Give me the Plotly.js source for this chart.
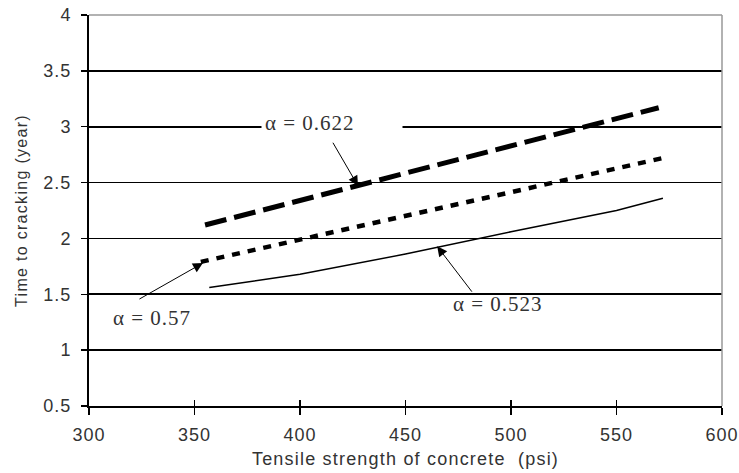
<!DOCTYPE html>
<html>
<head>
<meta charset="utf-8">
<script src="https://cdn.plot.ly/plotly-3.0.1.min.js"></script>
<style>
  html, body { margin: 0; padding: 0; background: #fff; }
  #chart { width: 739px; height: 473px; }
  .xtick text, .ytick text { letter-spacing: 1px; }
  text.xtitle { letter-spacing: 1.2px; }
  text.ytitle { letter-spacing: 1.3px; }
  .annotation-text { letter-spacing: 1px; }
</style>
</head>
<body>
<div id="chart"></div>
<script>
// Tensile strength of concrete (psi) and time to cracking (year)
const alpha0622X = [355, 400, 450, 500, 550, 570];
const alpha0622Y = [2.12, 2.34, 2.58, 2.82, 3.07, 3.17];

const alpha057X = [353, 400, 450, 500, 550, 572];
const alpha057Y = [1.79, 1.99, 2.20, 2.41, 2.62, 2.72];

const alpha0523X = [357, 400, 450, 500, 550, 572];
const alpha0523Y = [1.56, 1.68, 1.86, 2.06, 2.25, 2.36];

const xTicks = [300, 350, 400, 450, 500, 550, 600];
const yTicks = [0.5, 1, 1.5, 2, 2.5, 3, 3.5, 4];
const yTickText = ['0.5', '1', '1.5', '2', '2.5', '3', '3.5', '4'];

const labelText = ['α = 0.622', 'α = 0.57', 'α = 0.523'];

const traces = [
  { x: alpha0622X, y: alpha0622Y, mode: 'lines', name: labelText[0],
    line: { color: '#000', width: 5, dash: '22px,8px' }, hoverinfo: 'skip' },
  { x: alpha057X, y: alpha057Y, mode: 'lines', name: labelText[1],
    line: { color: '#000', width: 4.5, dash: '8px,8px' }, hoverinfo: 'skip' },
  { x: alpha0523X, y: alpha0523Y, mode: 'lines', name: labelText[2],
    line: { color: '#000', width: 1.5 }, hoverinfo: 'skip' },
  // invisible trace carrying the overlay axis that draws the inner half of the x ticks
  { x: [alpha0622X[0]], y: [alpha0622Y[0]], xaxis: 'x2', yaxis: 'y', mode: 'markers',
    marker: { opacity: 0 }, hoverinfo: 'skip', showlegend: false }
];

const serif = 'Liberation Serif, Times New Roman, serif';
const arrowCommon = { showarrow: true, arrowhead: 2, arrowsize: 2, arrowwidth: 1,
  arrowcolor: '#000', axref: 'x', ayref: 'y', text: '' };

const layout = {
  width: 739, height: 473,
  margin: { l: 89, r: 17, t: 15, b: 67 },
  paper_bgcolor: '#fff', plot_bgcolor: '#fff',
  showlegend: false,
  font: { family: 'Liberation Sans, Arial, sans-serif', color: '#333' },
  xaxis: {
    range: [300, 600], tickvals: xTicks, ticktext: xTicks.map(String),
    showgrid: false, zeroline: false,
    showline: true, linecolor: '#000', linewidth: 2,
    ticks: 'outside', ticklen: 7, tickwidth: 1.5, tickcolor: '#000',
    ticklabelstandoff: 4,
    tickfont: { size: 18, color: '#333' },
    title: { text: 'Tensile strength of concrete  (psi)', font: { size: 18, color: '#333' }, standoff: 9 },
    automargin: false
  },
  xaxis2: {
    overlaying: 'x', matches: 'x', anchor: 'y', side: 'bottom',
    range: [300, 600], tickvals: xTicks,
    showgrid: false, zeroline: false, showline: false,
    ticks: 'inside', ticklen: 6, tickwidth: 1.5, tickcolor: '#000',
    showticklabels: false
  },
  yaxis: {
    range: [0.5, 4], tickvals: yTicks, ticktext: yTickText,
    showgrid: true, gridcolor: '#000', gridwidth: 1.8,
    zeroline: false,
    showline: true, linecolor: '#000', linewidth: 2,
    ticks: 'outside', ticklen: 6, tickwidth: 1.5, tickcolor: '#000',
    ticklabelstandoff: 6,
    tickfont: { size: 18, color: '#333' },
    title: { text: 'Time to cracking (year)', font: { size: 16, color: '#333' }, standoff: 12 },
    automargin: false
  },
  shapes: [
    { type: 'line', xref: 'paper', yref: 'paper', x0: 0, x1: 1, y0: 1, y1: 1,
      line: { color: '#999', width: 1.5 }, layer: 'above' },
    { type: 'line', xref: 'paper', yref: 'paper', x0: 1, x1: 1, y0: 0, y1: 1,
      line: { color: '#999', width: 1.5 }, layer: 'above' }
  ],
  annotations: [
    { x: 415.2, y: 3.03, text: labelText[0], showarrow: false, bgcolor: '#fff',
      width: 134, height: 22, align: 'left', xanchor: 'center', yanchor: 'middle', borderpad: 3,
      font: { family: serif, size: 21, color: '#333' } },
    Object.assign({ x: 427.5, y: 2.47, ax: 415.2, ay: 2.87 }, arrowCommon),
    { x: 329.9, y: 1.29, text: labelText[1], showarrow: false,
      xanchor: 'center', yanchor: 'middle',
      font: { family: serif, size: 21, color: '#333' } },
    Object.assign({ x: 354, y: 1.78, ax: 323.2, ay: 1.45 }, arrowCommon),
    { x: 493.8, y: 1.416, text: labelText[2], showarrow: false,
      xanchor: 'center', yanchor: 'middle',
      font: { family: serif, size: 21, color: '#333' } },
    Object.assign({ x: 465, y: 1.93, ax: 482, ay: 1.51 }, arrowCommon)
  ]
};

Plotly.newPlot('chart', traces, layout, { staticPlot: true, displayModeBar: false });
</script>
</body>
</html>
